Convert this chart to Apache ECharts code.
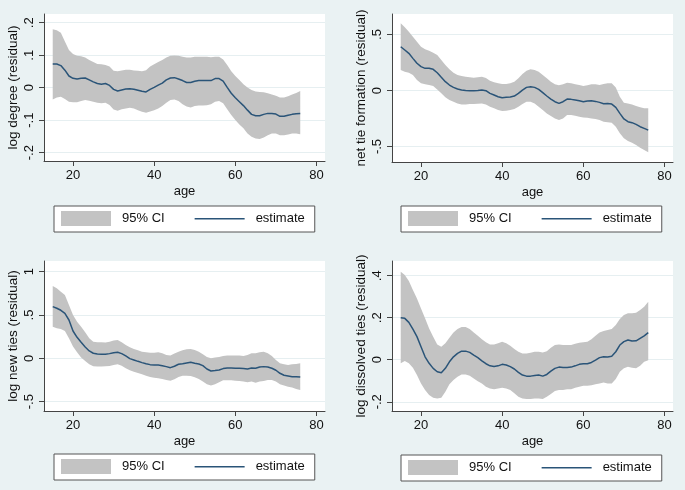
<!DOCTYPE html>
<html>
<head>
<meta charset="utf-8">
<script src="https://cdn.jsdelivr.net/npm/echarts@6/dist/echarts.min.js"></script>
<style>
html,body{margin:0;padding:0;background:#eaf2f3;}
#chart{width:685px;height:490px;}
</style>
</head>
<body>
<div id="chart"></div>
<script>
// ---- data ----
var ages = [15,16,17,18,19,20,21,22,23,24,25,26,27,28,29,30,31,32,33,34,35,36,37,38,39,40,41,42,43,44,45,46,47,48,49,50,51,52,53,54,55,56,57,58,59,60,61,62,63,64,65,66,67,68,69,70,71,72,73,74,75,76];
var xTicks = [20, 40, 60, 80];

// panel 1: log degree (residual)
var degEst = [0.073,0.073,0.068,0.054,0.036,0.029,0.027,0.029,0.030,0.024,0.018,0.013,0.011,0.013,0.007,-0.005,-0.010,-0.007,-0.004,-0.003,-0.005,-0.008,-0.011,-0.013,-0.005,0.001,0.008,0.014,0.024,0.030,0.031,0.027,0.022,0.016,0.016,0.020,0.022,0.022,0.022,0.022,0.028,0.028,0.020,0.001,-0.017,-0.031,-0.043,-0.055,-0.069,-0.082,-0.086,-0.086,-0.082,-0.079,-0.079,-0.081,-0.088,-0.088,-0.085,-0.082,-0.080,-0.079];
var degHi = [0.180,0.177,0.169,0.142,0.116,0.104,0.098,0.097,0.093,0.085,0.079,0.073,0.072,0.070,0.065,0.052,0.051,0.053,0.055,0.055,0.053,0.052,0.051,0.054,0.065,0.072,0.079,0.085,0.093,0.098,0.099,0.098,0.095,0.093,0.093,0.095,0.095,0.095,0.095,0.094,0.095,0.095,0.087,0.070,0.051,0.036,0.024,0.011,0.001,-0.007,-0.012,-0.013,-0.014,-0.017,-0.021,-0.025,-0.030,-0.030,-0.026,-0.021,-0.016,-0.010];
var degLo = [-0.036,-0.030,-0.028,-0.035,-0.043,-0.045,-0.045,-0.041,-0.038,-0.040,-0.043,-0.046,-0.048,-0.046,-0.053,-0.067,-0.071,-0.066,-0.064,-0.062,-0.064,-0.069,-0.074,-0.077,-0.073,-0.069,-0.064,-0.056,-0.046,-0.038,-0.036,-0.041,-0.051,-0.058,-0.061,-0.056,-0.055,-0.055,-0.054,-0.051,-0.043,-0.041,-0.048,-0.066,-0.084,-0.099,-0.113,-0.125,-0.141,-0.151,-0.156,-0.158,-0.153,-0.146,-0.141,-0.141,-0.146,-0.146,-0.144,-0.141,-0.141,-0.143];
var degTicks = [-0.2,-0.1,0,0.1,0.2];

// panel 2: net tie formation (residual)
var netEst = [0.391,0.362,0.332,0.287,0.243,0.213,0.198,0.198,0.189,0.159,0.118,0.079,0.049,0.028,0.013,0.004,0.001,-0.001,-0.001,0.001,0.004,-0.001,-0.025,-0.040,-0.055,-0.064,-0.061,-0.058,-0.049,-0.025,0.004,0.028,0.034,0.028,0.010,-0.019,-0.049,-0.076,-0.100,-0.115,-0.100,-0.076,-0.079,-0.085,-0.091,-0.100,-0.094,-0.091,-0.097,-0.106,-0.118,-0.115,-0.121,-0.150,-0.204,-0.254,-0.278,-0.287,-0.302,-0.323,-0.338,-0.353];
var netHi = [0.600,0.564,0.525,0.481,0.436,0.391,0.368,0.356,0.338,0.317,0.272,0.228,0.189,0.159,0.138,0.129,0.124,0.118,0.115,0.118,0.124,0.112,0.088,0.073,0.064,0.058,0.058,0.064,0.079,0.109,0.147,0.177,0.189,0.183,0.168,0.138,0.109,0.079,0.055,0.046,0.055,0.070,0.064,0.055,0.049,0.040,0.046,0.055,0.055,0.049,0.058,0.064,0.064,0.028,-0.055,-0.109,-0.115,-0.124,-0.138,-0.150,-0.159,-0.159];
var netLo = [0.183,0.168,0.159,0.138,0.094,0.064,0.055,0.049,0.040,0.010,-0.025,-0.061,-0.085,-0.100,-0.115,-0.124,-0.124,-0.121,-0.121,-0.118,-0.115,-0.124,-0.144,-0.159,-0.174,-0.183,-0.180,-0.174,-0.165,-0.144,-0.121,-0.100,-0.100,-0.115,-0.144,-0.174,-0.204,-0.228,-0.249,-0.263,-0.249,-0.219,-0.219,-0.225,-0.234,-0.240,-0.243,-0.249,-0.254,-0.263,-0.278,-0.284,-0.287,-0.323,-0.382,-0.427,-0.451,-0.466,-0.487,-0.510,-0.531,-0.552];
var netTicks = [-0.5,0,0.5];

// panel 3: log new ties (residual)
var newEst = [0.596,0.577,0.554,0.519,0.442,0.315,0.242,0.185,0.131,0.085,0.058,0.050,0.046,0.046,0.054,0.065,0.069,0.054,0.027,-0.004,-0.019,-0.035,-0.050,-0.062,-0.073,-0.077,-0.077,-0.085,-0.096,-0.108,-0.092,-0.069,-0.062,-0.054,-0.046,-0.058,-0.065,-0.085,-0.123,-0.146,-0.142,-0.135,-0.119,-0.112,-0.112,-0.115,-0.115,-0.119,-0.123,-0.112,-0.115,-0.100,-0.096,-0.100,-0.115,-0.138,-0.173,-0.196,-0.204,-0.212,-0.212,-0.215];
var newHi = [0.835,0.808,0.769,0.731,0.615,0.500,0.423,0.365,0.300,0.231,0.192,0.185,0.185,0.181,0.192,0.204,0.212,0.185,0.154,0.127,0.108,0.092,0.077,0.069,0.065,0.065,0.069,0.058,0.038,0.031,0.054,0.077,0.092,0.104,0.108,0.096,0.077,0.046,0.015,0.000,0.008,0.015,0.027,0.031,0.031,0.031,0.031,0.027,0.038,0.058,0.058,0.069,0.077,0.058,0.027,-0.019,-0.058,-0.069,-0.077,-0.069,-0.065,-0.058];
var newLo = [0.365,0.346,0.338,0.315,0.231,0.135,0.069,0.008,-0.031,-0.069,-0.092,-0.096,-0.096,-0.092,-0.088,-0.077,-0.069,-0.085,-0.115,-0.138,-0.154,-0.169,-0.185,-0.200,-0.215,-0.223,-0.231,-0.238,-0.250,-0.258,-0.242,-0.215,-0.200,-0.200,-0.204,-0.219,-0.238,-0.269,-0.300,-0.315,-0.300,-0.277,-0.254,-0.254,-0.254,-0.258,-0.262,-0.269,-0.277,-0.269,-0.281,-0.269,-0.262,-0.250,-0.250,-0.269,-0.300,-0.315,-0.327,-0.338,-0.354,-0.365];
var newTicks = [-0.5,0,0.5,1];

// panel 4: log dissolved ties (residual)
var disEst = [0.200,0.197,0.178,0.146,0.110,0.062,0.014,-0.017,-0.041,-0.057,-0.062,-0.041,-0.010,0.014,0.030,0.041,0.041,0.035,0.022,0.010,-0.005,-0.019,-0.029,-0.032,-0.029,-0.022,-0.025,-0.033,-0.044,-0.060,-0.073,-0.078,-0.078,-0.075,-0.073,-0.078,-0.070,-0.054,-0.041,-0.035,-0.037,-0.037,-0.035,-0.029,-0.022,-0.019,-0.019,-0.013,-0.002,0.010,0.014,0.013,0.017,0.038,0.070,0.086,0.094,0.089,0.090,0.102,0.114,0.129];
var disHi = [0.419,0.403,0.375,0.332,0.292,0.244,0.197,0.149,0.110,0.073,0.062,0.078,0.105,0.130,0.146,0.156,0.156,0.146,0.130,0.114,0.098,0.083,0.073,0.073,0.079,0.086,0.079,0.067,0.051,0.038,0.030,0.030,0.033,0.038,0.038,0.035,0.041,0.057,0.070,0.073,0.070,0.070,0.070,0.076,0.081,0.083,0.086,0.098,0.114,0.130,0.137,0.141,0.146,0.165,0.194,0.213,0.221,0.221,0.224,0.237,0.252,0.276];
var disLo = [-0.017,-0.006,-0.017,-0.038,-0.073,-0.113,-0.144,-0.168,-0.181,-0.184,-0.181,-0.152,-0.117,-0.097,-0.081,-0.070,-0.070,-0.076,-0.089,-0.102,-0.113,-0.129,-0.137,-0.140,-0.137,-0.133,-0.137,-0.144,-0.160,-0.176,-0.184,-0.187,-0.187,-0.184,-0.184,-0.187,-0.176,-0.163,-0.149,-0.144,-0.144,-0.141,-0.140,-0.133,-0.129,-0.124,-0.124,-0.121,-0.117,-0.113,-0.108,-0.113,-0.113,-0.092,-0.057,-0.041,-0.033,-0.038,-0.041,-0.029,-0.010,-0.002];
var disTicks = [-0.2,0,0.2,0.4];

// ---- styling ----
var FONT = "'Liberation Sans', Arial, sans-serif";
var TXT = '#111';
var CI_COLOR = '#c3c3c3';
var LINE_COLOR = '#2a5478';

var panels = [
  {title:'log degree (residual)', est:degEst, hi:degHi, lo:degLo, ticks:degTicks, ymin:-0.2255, ymax:0.2268,
   grid:{left:44, top:14, width:281, height:147}, legend:{left:54, top:206}},
  {title:'net tie formation (residual)', est:netEst, hi:netHi, lo:netLo, ticks:netTicks, ymin:-0.638, ymax:0.683,
   grid:{left:392, top:14, width:281, height:148}, legend:{left:401, top:206}},
  {title:'log new ties (residual)', est:newEst, hi:newHi, lo:newLo, ticks:newTicks, ymin:-0.608, ymax:1.1226,
   grid:{left:44, top:261, width:281, height:150}, legend:{left:54, top:454}},
  {title:'log dissolved ties (residual)', est:disEst, hi:disHi, lo:disLo, ticks:disTicks, ymin:-0.244, ymax:0.47,
   grid:{left:392, top:261, width:281, height:150}, legend:{left:401, top:455}}
];

function fmtY(v){
  var s = String(Math.round(v*100)/100);
  return s.replace(/^(-?)0\./, '$1.');
}
function pairs(ys){ return ages.map(function(a,i){ return [a, ys[i]]; }); }

// band drawn as one polygon through the axis scales (api.coord)
function bandRenderer(n){
  return function(params, api){
    if (params.dataIndex !== 0) return null;
    var upper = [], lower = [];
    for (var i = 0; i < n; i++){
      var a = api.value(0, i), lo = api.value(1, i), hi = api.value(2, i);
      upper.push(api.coord([a, hi]));
      lower.push(api.coord([a, lo]));
    }
    var pts = upper.concat(lower.reverse());
    return {type:'polygon', shape:{points:pts}, style:{fill:CI_COLOR, stroke:null}, silent:true};
  };
}

var grids=[], xAxes=[], yAxes=[], series=[], legends=[];
panels.forEach(function(p, k){
  grids.push({left:p.grid.left, top:p.grid.top, width:p.grid.width, height:p.grid.height,
    show:true, backgroundColor:'#ffffff', borderWidth:0, containLabel:false});
  xAxes.push({type:'value', gridIndex:k, min:12.85, max:82.1,
    name:'age', nameLocation:'middle', nameGap:24,
    nameTextStyle:{color:TXT, fontFamily:FONT, fontSize:13},
    axisLine:{show:true, onZero:false, lineStyle:{color:'#444', width:1}},
    axisTick:{show:true, length:5, customValues:xTicks, lineStyle:{color:'#444'}},
    axisLabel:{customValues:xTicks, margin:8, color:TXT, fontFamily:FONT, fontSize:13},
    splitLine:{show:false}});
  yAxes.push({type:'value', gridIndex:k, min:p.ymin, max:p.ymax,
    name:p.title, nameLocation:'middle', nameRotate:90, nameGap:24,
    nameTextStyle:{color:TXT, fontFamily:FONT, fontSize:13.5},
    axisLine:{show:true, onZero:false, lineStyle:{color:'#444', width:1}},
    axisTick:{show:true, length:5, customValues:p.ticks, lineStyle:{color:'#444'}},
    axisLabel:{customValues:p.ticks, rotate:90, margin:8, color:TXT, fontFamily:FONT, fontSize:13, formatter:fmtY},
    splitLine:{show:true, lineStyle:{color:'#e6eff1', width:1}}});
  var bandData = ages.map(function(a, i){ return [a, p.lo[i], p.hi[i]]; });
  series.push({type:'custom', name:'95% CI', xAxisIndex:k, yAxisIndex:k, data:bandData,
    encode:{x:0, y:[1,2]}, renderItem:bandRenderer(ages.length), clip:true,
    itemStyle:{color:CI_COLOR}, silent:true, z:1});
  series.push({type:'line', name:'estimate', xAxisIndex:k, yAxisIndex:k, data:pairs(p.est),
    symbol:'none', silent:true, itemStyle:{color:LINE_COLOR},
    lineStyle:{color:LINE_COLOR, width:1.5}, z:3});
  legends.push({left:p.legend.left, top:p.legend.top, orient:'horizontal',
    backgroundColor:'#ffffff', borderColor:'#555', borderWidth:1,
    padding:[5,10,6,7], itemWidth:50, itemHeight:15, itemGap:30,
    selectedMode:false,
    textStyle:{color:TXT, fontFamily:FONT, fontSize:13, padding:[0,0,0,6]},
    itemStyle:{borderWidth:0},
    data:[{name:'95% CI', icon:'rect'},
          {name:'estimate', icon:'path://M0,0L0.01,0M0,7L50,7L50,8.5L0,8.5ZM49.99,15L50,15'}]});
});

var chart = echarts.init(document.getElementById('chart'), null, {renderer:'canvas'});
chart.setOption({
  backgroundColor:'#eaf2f3',
  animation:false,
  grid:grids, xAxis:xAxes, yAxis:yAxes, legend:legends, series:series
});
</script>
</body>
</html>
